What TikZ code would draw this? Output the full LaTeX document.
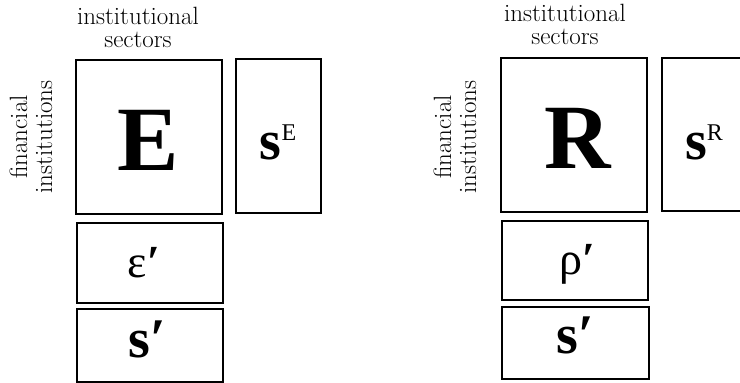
\documentclass[tikz,border=0pt]{standalone}
\usepackage{fontspec}
\newfontfamily\tnr{Liberation Serif}
\begin{document}
\begin{tikzpicture}[x=1pt,y=-1pt,
  cell/.style={draw=black,line width=1.1pt,rectangle,inner sep=0pt},
  lab/.style={align=center,inner sep=0pt,font=\fontsize{25}{23}\selectfont},
  slab/.style={align=center,inner sep=0pt,font=\fontsize{25}{25}\selectfont},
  big/.style={inner sep=0pt,anchor=base,font=\tnr\bfseries\fontsize{92}{92}\selectfont},
  sym/.style={inner sep=0pt,anchor=base,font=\tnr\bfseries\fontsize{56}{56}\selectfont},
  grk/.style={inner sep=0pt,anchor=base,font=\tnr\fontsize{46}{46}\selectfont}
]
\useasboundingbox (0,0) rectangle (740,383);
% left panel
\node[cell,minimum width=146pt,minimum height=154pt] (E) at (149,137) {};
\node[cell,minimum width=85pt,minimum height=154pt] (sE) at (278.5,136) {};
\node[cell,minimum width=146pt,minimum height=80pt] (eps) at (150,263) {};
\node[cell,minimum width=146pt,minimum height=73pt] (sl) at (150,345.5) {};
\node[big] (tE) at (148,170) {E};
\node[sym] (tsE) at (278,159) {s\raisebox{19pt}{\mdseries\fontsize{24}{24}\selectfont E}};
\node[grk] (teps) at (144,277) {ε\textbf{′}};
\node[sym] (tsl) at (147,357) {s′};
\node[lab] (top1) at (138,27) {institutional\\sectors};
\node[slab,rotate=90] (side1) at (31,137) {financial\\institutions};
% right panel
\node[cell,minimum width=146pt,minimum height=154pt] (R) at (574,135) {};
\node[cell,minimum width=85pt,minimum height=153pt] (sR) at (704.5,134.5) {};
\node[cell,minimum width=146pt,minimum height=79pt] (rho) at (575,260.5) {};
\node[cell,minimum width=147pt,minimum height=72pt] (sr) at (575.5,343) {};
\node[big] (tR) at (578,168) {R};
\node[sym] (tsR) at (704,159) {s\raisebox{19pt}{\mdseries\fontsize{24}{24}\selectfont R}};
\node[grk] (trho) at (577,274) {ρ\textbf{′}};
\node[sym] (tsr) at (575,353) {s′};
\node[lab] (top2) at (565,24) {institutional\\sectors};
\node[slab,rotate=90] (side2) at (455,137) {financial\\institutions};
\end{tikzpicture}
\end{document}
